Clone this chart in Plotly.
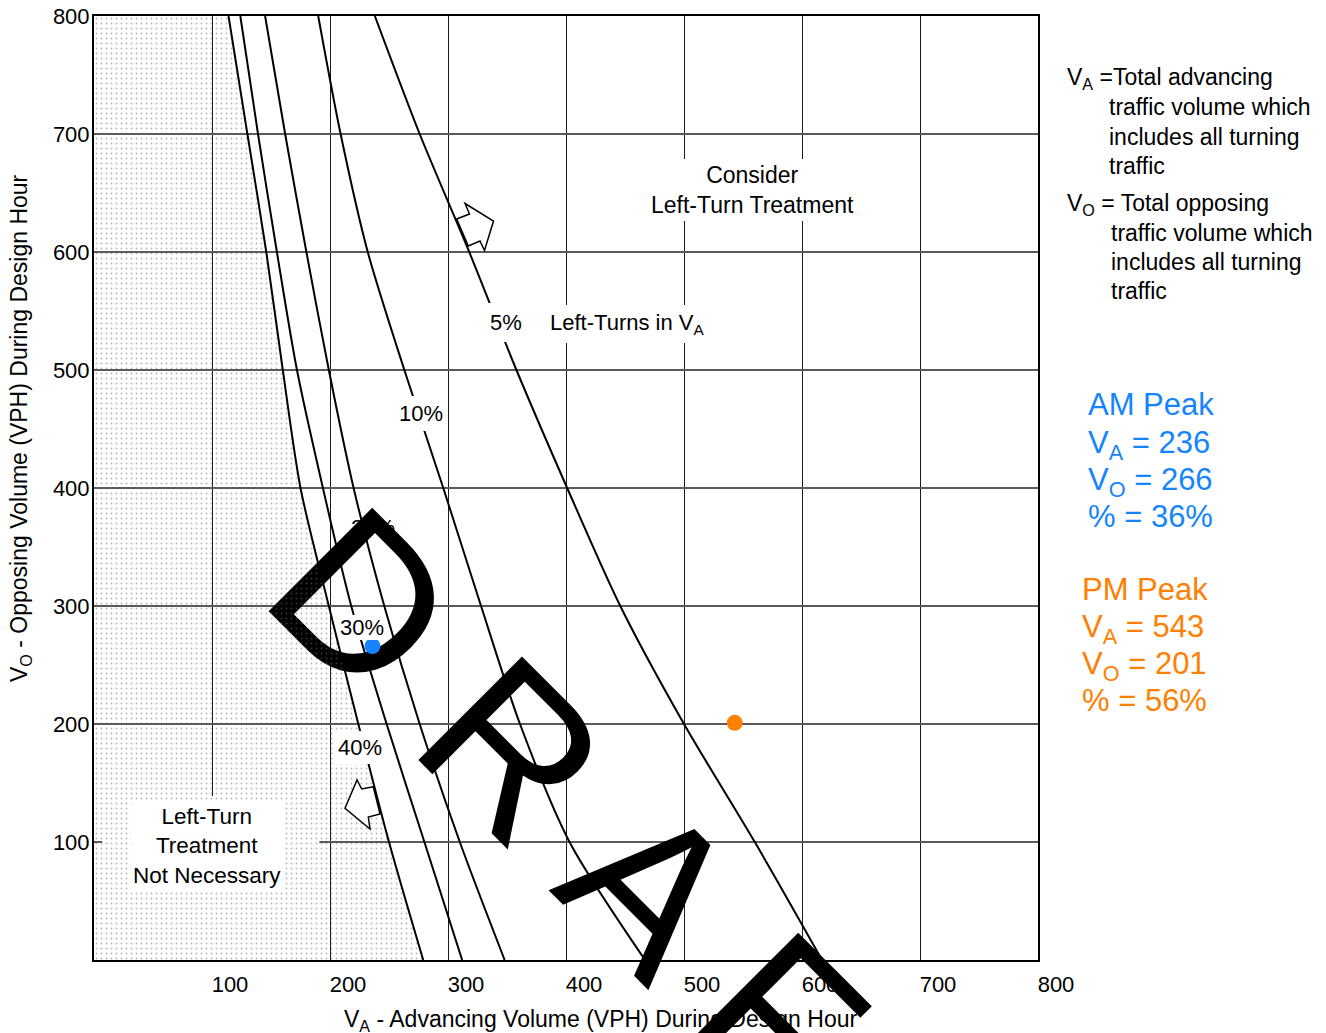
import plotly.graph_objects as go

# ---------------------------------------------------------------------------
# Left-turn treatment warrant curves (two-lane, unsignalized)
# ---------------------------------------------------------------------------

# Opposing volume levels at which each curve is tabulated (VPH)
vo_levels = [800, 700, 600, 500, 400, 300, 200, 100, 0]

# Advancing volume on each curve, by share of left turns in V_A (VPH)
va_40 = [114, 130, 146, 160, 175, 199, 224, 250, 279]
va_30 = [124, 139, 155, 172, 194, 218, 248, 280, 312]
va_20 = [145, 162, 180, 199, 220, 246, 276, 310, 348]
va_10 = [190, 209, 232, 263, 296, 328, 361, 403, 467]
va_05 = [238, 276, 318, 358, 401, 446, 500, 560, 617]

curve_labels = ["40%", "30%", "20%", "10%", "5%"]

# Observed peak-hour volumes
peak_names = ["AM Peak", "PM Peak"]
peak_va = [236, 543]
peak_vo = [266, 201]
peak_pct = [36, 56]
peak_colors = ["#1584FF", "#FF8000"]

tick_vals = [100, 200, 300, 400, 500, 600, 700, 800]

# ---------------------------------------------------------------------------
FONT = "Liberation Sans, Arial, Helvetica, sans-serif"
W, H = 1326, 1033
ML, MR, MT, MB = 94, 288, 16, 73
PW, PH = W - ML - MR, H - MT - MB
X_MAX = Y_MAX = 800


def paper(px, py):
    """Page pixel -> paper coordinates."""
    return (px - ML) / PW, (MT + PH - py) / PH


def data(px, py):
    """Page pixel -> axis coordinates."""
    fx, fy = paper(px, py)
    return fx * X_MAX, fy * Y_MAX


def px_path(pts):
    parts = []
    for i, (px, py) in enumerate(pts):
        x, y = paper(px, py)
        parts.append(("M" if i == 0 else "L") + f"{x:.5f},{y:.5f}")
    return " ".join(parts) + " Z"


fig = go.Figure()

# stippled "not necessary" zone left of the 40% curve
fig.add_trace(go.Scatter(
    x=[0] + va_40 + [0],
    y=[vo_levels[0]] + vo_levels + [0],
    mode="none",
    fill="toself",
    fillcolor="rgba(0,0,0,0)",
    fillpattern=dict(shape=".", fgcolor="#6a6a6a", bgcolor="rgba(0,0,0,0)",
                     size=5, solidity=0.11),
    hoverinfo="skip",
    showlegend=False,
))

# warrant curves
for xs in (va_40, va_30, va_20, va_10, va_05):
    fig.add_trace(go.Scatter(
        x=xs, y=vo_levels, mode="lines",
        line=dict(color="black", width=2, shape="spline", smoothing=0.8),
        hoverinfo="skip", showlegend=False,
    ))

# peak-hour points
for name, va, vo, col in zip(peak_names, peak_va, peak_vo, peak_colors):
    fig.add_trace(go.Scatter(
        x=[va], y=[vo], mode="markers", name=name,
        marker=dict(size=16, color=col, line=dict(width=0)),
        showlegend=False,
    ))

# DRAFT watermark, 45 degrees, 213 px Liberation Sans.
# The leading "D" sits under the data points (shape label, grid-above layer);
# the rest is an annotation so it can run past the plot frame.
WM_SIZE = 213
dx_c, dy_c = data(377, 587)

shapes = [
    # keep the grid out of the lower-left note area
    dict(type="rect", xref="x", yref="y", x0=7, x1=191, y0=0, y1=139,
         fillcolor="white", line=dict(width=0), layer="between"),
    dict(type="rect", xref="x", yref="y",
         x0=dx_c - 5, x1=dx_c + 5, y0=dy_c - 5, y1=dy_c + 5,
         fillcolor="rgba(0,0,0,0)", line=dict(width=0), layer="between",
         label=dict(text="D", textangle=45,
                    textposition="middle center", padding=0,
                    font=dict(family=FONT, size=WM_SIZE, color="black"))),
    # hollow direction arrows
    dict(type="path", xref="paper", yref="paper",
         path=px_path([(456.7, 219), (469.5, 214), (465, 203.5), (493.5, 221),
                       (484.5, 250.5), (480, 241), (468.3, 246)]),
         fillcolor="white", line=dict(color="black", width=1.5)),
    dict(type="path", xref="paper", yref="paper",
         path=px_path([(373.3, 786.7), (361.7, 789), (357, 780), (345, 808.3),
                       (370, 829), (368.3, 817), (380, 814)]),
         fillcolor="white", line=dict(color="black", width=1.5)),
]

annotations = []


def note(px, py, text, size=22, color="black", bg=None, pad=1,
         xanchor="center", angle=0):
    x, y = paper(px, py)
    a = dict(x=x, y=y, xref="paper", yref="paper", text=text,
             showarrow=False, xanchor=xanchor, yanchor="middle",
             font=dict(family=FONT, size=size, color=color),
             borderpad=pad, borderwidth=0, textangle=angle)
    if bg:
        a["bgcolor"] = bg
    annotations.append(a)


# curve labels (20% sits on the watermark, so it gets no backing box)
label_px = {"40%": (360, 747, 4, "white"), "30%": (362, 627, 0, "white"),
            "20%": (373, 527, 0, None), "10%": (421, 413, 5, "white"),
            "5%": (506, 322, 7, "white")}
for lab in curve_labels:
    px, py, pad, bg = label_px[lab]
    note(px, py, lab, size=22, bg=bg, pad=pad)

note(627, 324, "Left-Turns in V<sub>A</sub>", size=22, bg="white", pad=5)
note(752, 190, "Consider<br>Left-Turn Treatment", size=23, bg="white", pad=3)
note(207, 846, "Left-Turn<br>Treatment<br>Not Necessary", size=22.5,
     bg="white", pad=2)

# axis titles
note(600, 1020, "V<sub>A</sub> - Advancing Volume (VPH) During Design Hour",
     size=23)
note(21, 428, "V<sub>O</sub> - Opposing Volume (VPH) During Design Hour",
     size=23, angle=-90)

# definitions
defs = [
    (1066, 79, "V<sub>A</sub> =Total advancing"),
    (1108, 107, "traffic volume which"),
    (1108, 137, "includes all turning"),
    (1108, 166, "traffic"),
    (1066, 205, "V<sub>O</sub> = Total opposing"),
    (1110, 233, "traffic volume which"),
    (1110, 262, "includes all turning"),
    (1110, 291, "traffic"),
]
for px, py, t in defs:
    note(px, py, t, size=23, xanchor="left")

# peak summaries, built from the plotted values
block_pos = [(1087, 405), (1081, 589)]
for (bx, by), name, va, vo, pct, col in zip(block_pos, peak_names, peak_va,
                                            peak_vo, peak_pct, peak_colors):
    lines = [name, f"V<sub>A</sub> = {va}", f"V<sub>O</sub> = {vo}",
             f"% = {pct}%"]
    for i, t in enumerate(lines):
        dy = 3 if "<sub>" in t else 0
        note(bx, by + i * 37 + dy, t, size=31, color=col, xanchor="left")

# remainder of the watermark
note(708, 945, "R A F T", size=WM_SIZE, angle=45)

axis_common = dict(
    range=[0, X_MAX], tickvals=tick_vals, ticks="", showline=True,
    linecolor="black", linewidth=2, mirror=True, zeroline=False,
    automargin=False,
    tickfont=dict(family=FONT, size=22, color="black"), fixedrange=True,
)

fig.update_layout(
    width=W, height=H, autosize=False,
    margin=dict(l=ML, r=MR, t=MT, b=MB, pad=0, autoexpand=False),
    paper_bgcolor="white", plot_bgcolor="white",
    xaxis=dict(**axis_common, showgrid=True, gridcolor="#1a1a1a",
               gridwidth=1, ticklabelshift=18, ticklabelstandoff=4),
    yaxis=dict(**axis_common, showgrid=True, gridcolor="#5a5a5a",
               gridwidth=1.5, ticklabelstandoff=-2),
    shapes=shapes,
    annotations=annotations,
    showlegend=False,
)

fig.write_html("out.html")
